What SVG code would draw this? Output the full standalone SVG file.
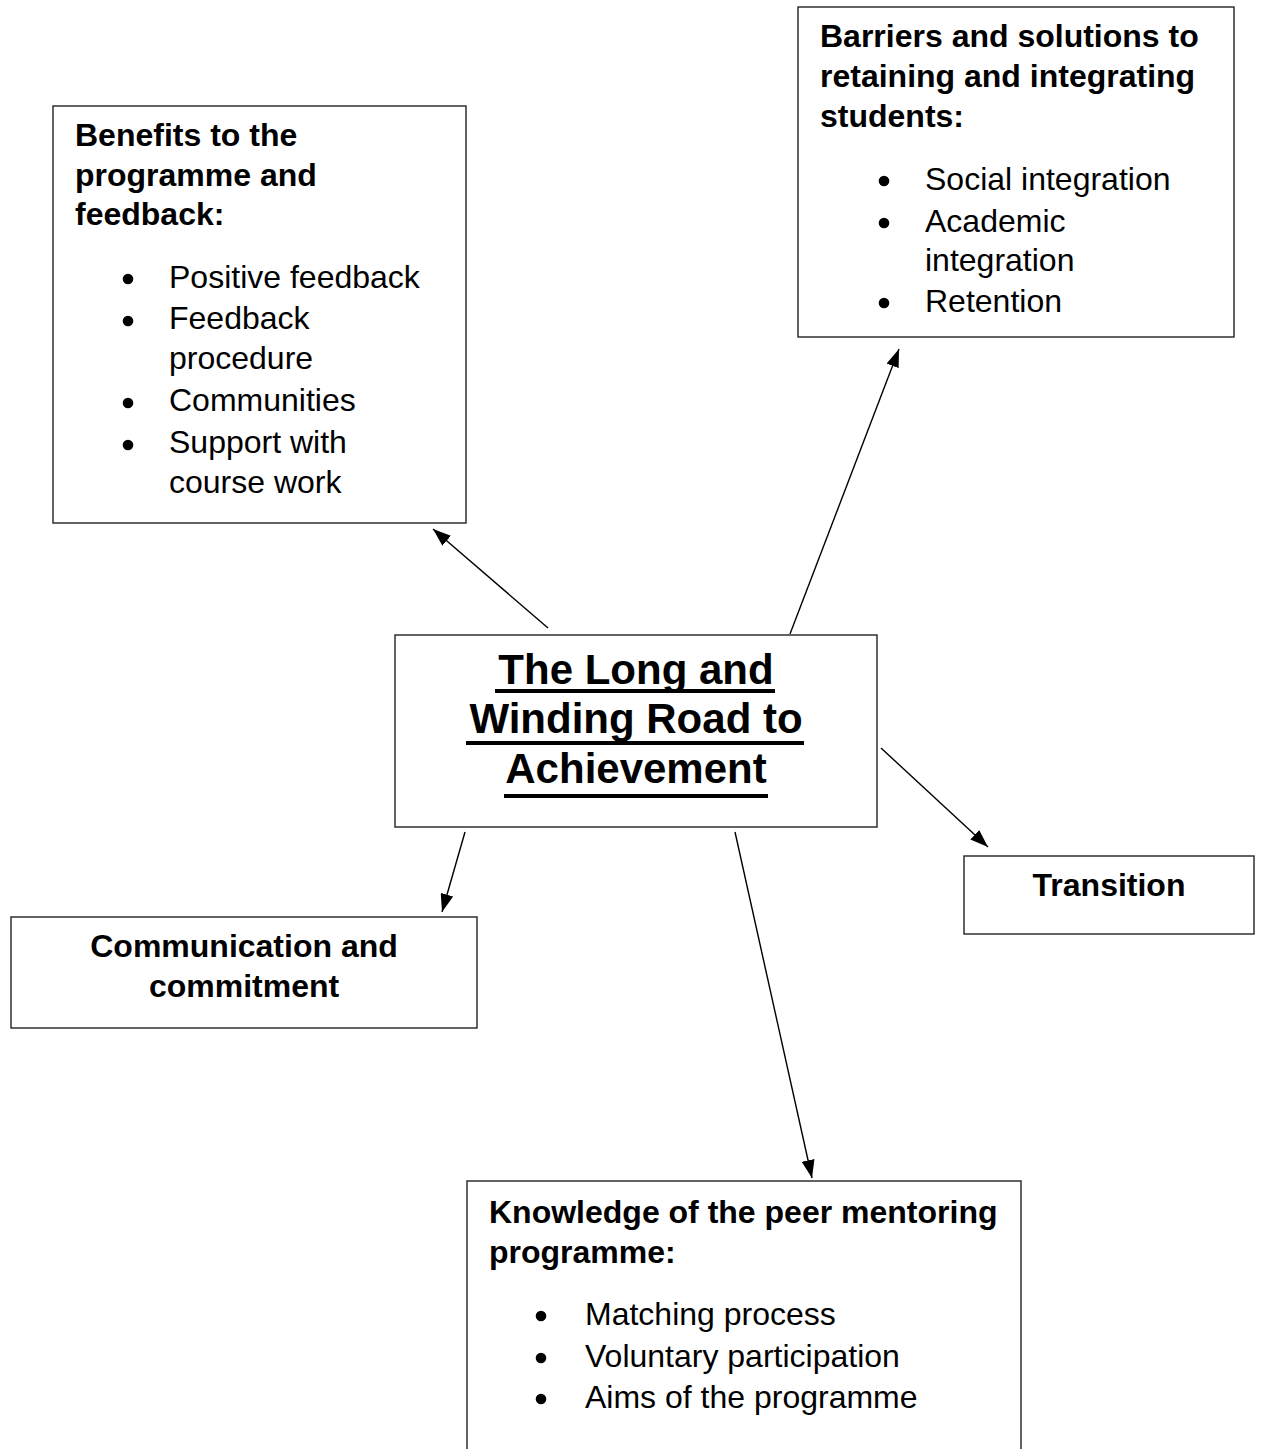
<svg xmlns="http://www.w3.org/2000/svg" width="1261" height="1449" viewBox="0 0 1261 1449">
<style>
.box{fill:#fff;stroke:#222;stroke-width:1.4}
.h{font-family:"Liberation Sans",Arial,sans-serif;font-weight:bold;font-size:32px;fill:#000}
.t{font-family:"Liberation Sans",Arial,sans-serif;font-size:32px;fill:#000}
.title{font-family:"Liberation Sans",Arial,sans-serif;font-weight:bold;font-size:42px;fill:#000;text-anchor:middle}
.ul{fill:#000}
.c{text-anchor:middle}
.dot{fill:#000}
.conn line{stroke:#000;stroke-width:1.4;marker-end:url(#arr)}
</style>
<defs>
<marker id="arr" markerUnits="userSpaceOnUse" viewBox="0 0 18 13" refX="18" refY="6.5" markerWidth="18" markerHeight="13" orient="auto">
<path d="M0,0 L18,6.5 L0,13 z" fill="#000"/>
</marker>
</defs>
<rect width="1261" height="1449" fill="#fff"/>

<g id="benefits">
<rect class="box" x="53" y="106" width="413" height="417"/>
<text class="h" x="75" y="146">Benefits to the</text>
<text class="h" x="75" y="186">programme and</text>
<text class="h" x="75" y="225">feedback:</text>
<circle class="dot" cx="128" cy="279" r="5.3"/>
<text class="t" x="169" y="288">Positive feedback</text>
<circle class="dot" cx="128" cy="321" r="5.3"/>
<text class="t" x="169" y="329">Feedback</text>
<text class="t" x="169" y="369">procedure</text>
<circle class="dot" cx="128" cy="403" r="5.3"/>
<text class="t" x="169" y="411">Communities</text>
<circle class="dot" cx="128" cy="445" r="5.3"/>
<text class="t" x="169" y="453">Support with</text>
<text class="t" x="169" y="493">course work</text>
</g>

<g id="barriers">
<rect class="box" x="798" y="7" width="436" height="330"/>
<text class="h" x="820" y="47">Barriers and solutions to</text>
<text class="h" x="820" y="87">retaining and integrating</text>
<text class="h" x="820" y="127">students:</text>
<circle class="dot" cx="884" cy="181" r="5.3"/>
<text class="t" x="925" y="190">Social integration</text>
<circle class="dot" cx="884" cy="223" r="5.3"/>
<text class="t" x="925" y="232">Academic</text>
<text class="t" x="925" y="271">integration</text>
<circle class="dot" cx="884" cy="303" r="5.3"/>
<text class="t" x="925" y="312">Retention</text>
</g>

<g id="central">
<rect class="box" x="395" y="635" width="482" height="192"/>
<text class="title" x="636" y="684">The Long and</text>
<rect class="ul" x="495" y="689" width="280" height="4"/>
<text class="title" x="636" y="733">Winding Road to</text>
<rect class="ul" x="466" y="741" width="338" height="4"/>
<text class="title" x="636" y="783">Achievement</text>
<rect class="ul" x="504" y="794" width="264" height="4"/>
</g>

<g id="transition">
<rect class="box" x="964" y="856" width="290" height="78"/>
<text class="h c" x="1109" y="896">Transition</text>
</g>

<g id="communication">
<rect class="box" x="11" y="917" width="466" height="111"/>
<text class="h c" x="244" y="957">Communication and</text>
<text class="h c" x="244" y="997">commitment</text>
</g>

<g id="knowledge">
<rect class="box" x="467" y="1181" width="554" height="320"/>
<text class="h" x="489" y="1223">Knowledge of the peer mentoring</text>
<text class="h" x="489" y="1263">programme:</text>
<circle class="dot" cx="541" cy="1316" r="5.3"/>
<text class="t" x="585" y="1325">Matching process</text>
<circle class="dot" cx="541" cy="1358" r="5.3"/>
<text class="t" x="585" y="1367">Voluntary participation</text>
<circle class="dot" cx="541" cy="1399" r="5.3"/>
<text class="t" x="585" y="1408">Aims of the programme</text>
</g>

<g id="connectors" class="conn">
<line x1="548" y1="628" x2="433" y2="529"/>
<line x1="790" y1="634" x2="899" y2="349"/>
<line x1="881" y1="748" x2="988" y2="847"/>
<line x1="465" y1="832" x2="442" y2="912"/>
<line x1="735" y1="832" x2="812" y2="1178"/>
</g>
</svg>
